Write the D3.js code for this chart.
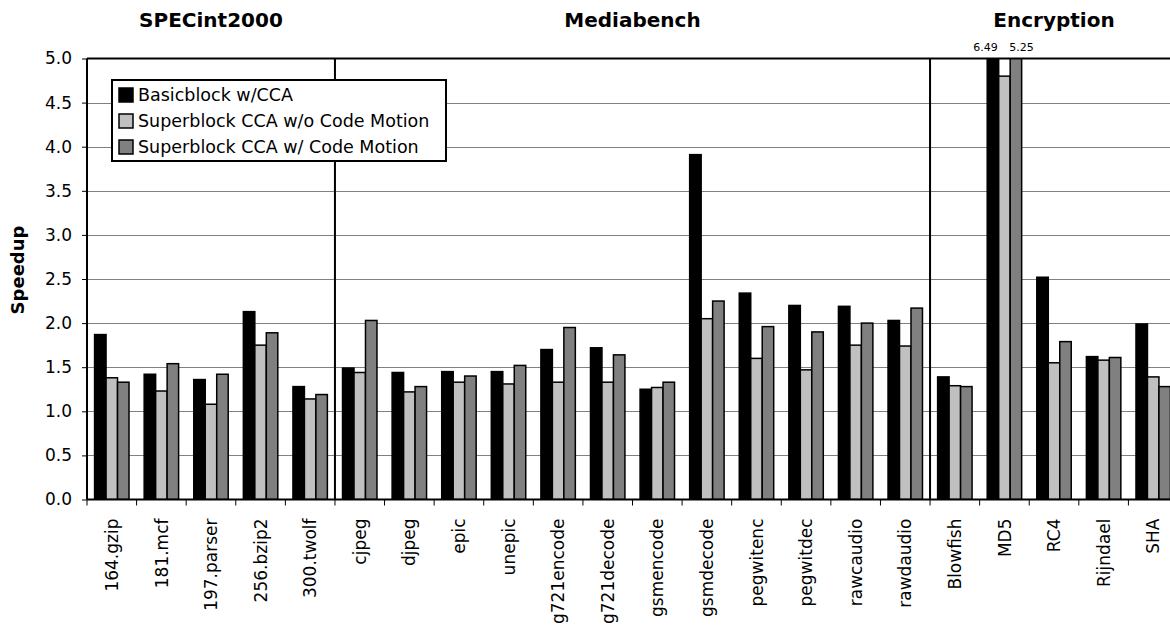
<!DOCTYPE html>
<html>
<head>
<meta charset="utf-8">
<script src="https://cdn.jsdelivr.net/npm/d3@7"></script>
<style>
  body { margin: 0; background: #fff; }
  svg { display: block; font-family: "DejaVu Sans", Verdana, sans-serif; }
</style>
</head>
<body>
<svg id="chart" width="1170" height="625"></svg>
<script>
const categories = ["164.gzip","181.mcf","197.parser","256.bzip2","300.twolf","cjpeg","djpeg","epic","unepic","g721encode","g721decode","gsmencode","gsmdecode","pegwitenc","pegwitdec","rawcaudio","rawdaudio","Blowfish","MD5","RC4","Rijndael","SHA"];
const seriesNames = ["Basicblock w/CCA","Superblock CCA w/o Code Motion","Superblock CCA w/ Code Motion"];
const basicblock = [1.87,1.42,1.36,2.13,1.28,1.49,1.44,1.45,1.45,1.70,1.72,1.25,3.91,2.34,2.20,2.19,2.03,1.39,6.49,2.52,1.62,1.99];
const superNoMotion = [1.38,1.23,1.08,1.75,1.14,1.44,1.22,1.33,1.31,1.33,1.33,1.27,2.05,1.60,1.47,1.75,1.74,1.29,4.80,1.55,1.58,1.39];
const superMotion = [1.33,1.54,1.42,1.89,1.19,2.03,1.28,1.40,1.52,1.95,1.64,1.33,2.25,1.96,1.90,2.00,2.17,1.28,5.25,1.79,1.61,1.28];
const groups = [
  {name: "SPECint2000", first: "164.gzip", last: "300.twolf"},
  {name: "Mediabench", first: "cjpeg", last: "rawdaudio"},
  {name: "Encryption", first: "Blowfish", last: "SHA"}
];
const yTicks = [0,0.5,1,1.5,2,2.5,3,3.5,4,4.5,5];
const colors = ["#000000","#c0c0c0","#808080"];

const seriesValues = [basicblock, superNoMotion, superMotion];
const data = categories.map((c, i) => ({cat: c, vals: seriesValues.map((s, k) => ({k, v: s[i]}))}));

const svg = d3.select("#chart");
const pLeft = 87, pTop = 58.5, pBottom = 499.5, pRight = 1178;

const x = d3.scaleBand().domain(categories).range([pLeft, pRight]).padding(0);
const x1 = d3.scaleBand().domain([0,1,2]).range([0, x.bandwidth()]).paddingInner(0).paddingOuter(0.66);
const y = d3.scaleLinear().domain([0, 5]).range([pBottom, pTop]);

// clip
svg.append("defs").append("clipPath").attr("id","plotclip")
  .append("rect").attr("x", pLeft).attr("y", pTop).attr("width", pRight-pLeft).attr("height", pBottom-pTop);

// gridlines
svg.append("g").selectAll("line").data(yTicks.filter(t => t > 0 && t < 5)).join("line")
  .attr("x1", pLeft).attr("x2", 1170)
  .attr("y1", d => Math.round(y(d)) + 0.5).attr("y2", d => Math.round(y(d)) + 0.5)
  .attr("stroke", "#808080").attr("stroke-width", 1);

// bars
const gBars = svg.append("g").attr("clip-path", "url(#plotclip)");
gBars.selectAll("g").data(data).join("g")
  .attr("transform", d => `translate(${x(d.cat)},0)`)
  .selectAll("rect").data(d => d.vals).join("rect")
  .attr("x", d => x1(d.k))
  .attr("width", x1.bandwidth())
  .attr("y", d => y(Math.min(d.v, 5.3)))
  .attr("height", d => pBottom - y(Math.min(d.v, 5.3)))
  .attr("fill", d => colors[d.k])
  .attr("stroke", "#000").attr("stroke-width", 1.5);

// group dividers
const dividers = groups.slice(1).map(g => x(g.first));
svg.append("g").selectAll("line").data(dividers).join("line")
  .attr("x1", d => d).attr("x2", d => d)
  .attr("y1", pTop).attr("y2", pBottom)
  .attr("stroke", "#000").attr("stroke-width", 2);

// top border
svg.append("line").attr("x1", pLeft).attr("x2", 1170).attr("y1", pTop).attr("y2", pTop)
  .attr("stroke", "#000").attr("stroke-width", 2);

// y axis
const yAxis = d3.axisLeft(y).tickValues(yTicks).tickFormat(d3.format(".1f")).tickSize(5).tickPadding(10);
const gy = svg.append("g").attr("transform", `translate(${pLeft},0)`).call(yAxis);
gy.select(".domain").attr("stroke", "#000").attr("stroke-width", 2).attr("d", `M0,${pTop}V${pBottom}`);
gy.selectAll(".tick line").attr("stroke", "#000").attr("stroke-width", 1);
gy.selectAll(".tick text").attr("font-size", 17).attr("fill", "#000").style("font-family", "DejaVu Sans");

// x axis
const xAxis = d3.axisBottom(x).tickSize(0).tickPadding(0);
const gx = svg.append("g").attr("transform", `translate(0,${pBottom})`).call(xAxis);
gx.select(".domain").attr("stroke", "#000").attr("stroke-width", 2).attr("d", `M${pLeft},0H1170`);
gx.selectAll(".tick text")
  .attr("font-size", 17).attr("fill", "#000").style("font-family", "DejaVu Sans")
  .attr("text-anchor", "end")
  .attr("transform", "rotate(-90)")
  .attr("x", -19).attr("y", 0).attr("dy", "0.36em");
// ticks at band boundaries
const boundaries = categories.map(c => x(c));
gx.append("g").selectAll("line").data(boundaries).join("line")
  .attr("x1", d => d).attr("x2", d => d).attr("y1", 0).attr("y2", 6)
  .attr("stroke", "#000").attr("stroke-width", 1);

// group titles
svg.append("g").selectAll("text").data(groups).join("text")
  .attr("x", d => (x(d.first) + x(d.last) + x.bandwidth()) / 2)
  .attr("y", 27)
  .attr("text-anchor", "middle")
  .attr("font-size", 20).attr("font-weight", "bold")
  .text(d => d.name);

// y title
svg.append("text")
  .attr("transform", `translate(24,270) rotate(-90)`)
  .attr("text-anchor", "middle")
  .attr("font-size", 18).attr("font-weight", "bold")
  .text("Speedup");

// overflow value labels
const overflow = [];
data.forEach(d => d.vals.forEach(v => { if (v.v > 5) overflow.push({cat: d.cat, k: v.k, v: v.v}); }));
svg.append("g").selectAll("text").data(overflow).join("text")
  .attr("x", d => d.k === 0 ? x(d.cat) + x1(d.k) + x1.bandwidth() - 1 : x(d.cat) + x1(d.k) - 1)
  .attr("y", 51)
  .attr("text-anchor", d => d.k === 0 ? "end" : "start")
  .attr("font-size", 11)
  .text(d => d.v.toFixed(2));

// legend
const lg = svg.append("g").attr("transform", "translate(112,80)");
lg.append("rect").attr("width", 334).attr("height", 81).attr("fill", "#fff").attr("stroke", "#000").attr("stroke-width", 2);
const items = lg.selectAll("g").data(seriesNames).join("g")
  .attr("transform", (d, i) => `translate(7,${15 + i * 26})`);
items.append("rect").attr("x", 0).attr("y", -7).attr("width", 14).attr("height", 14)
  .attr("fill", (d, i) => colors[i]).attr("stroke", "#000").attr("stroke-width", 1.5);
items.append("text").attr("x", 19).attr("y", 0).attr("dy", "0.36em")
  .attr("font-size", 17.5).text(d => d);
</script>
</body>
</html>
